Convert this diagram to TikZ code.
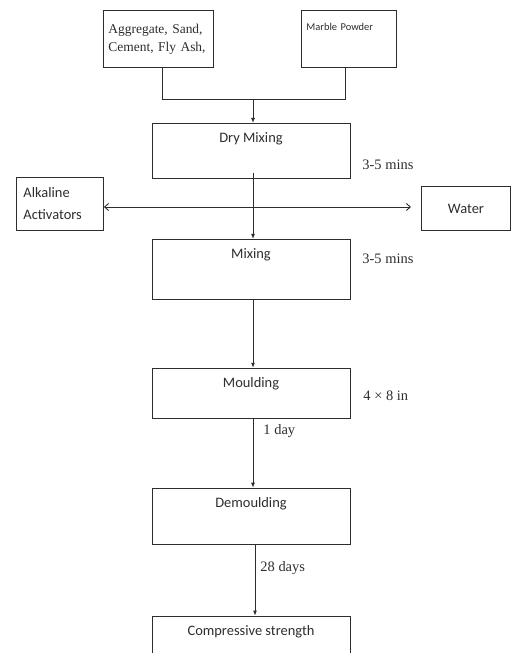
\documentclass[tikz,border=0pt]{standalone}
\usepackage{fontspec}
\setmainfont{Liberation Serif}
\newfontfamily\calibri{Carlito}
\usepackage{tikz}
\usetikzlibrary{arrows.meta, positioning}
\definecolor{ink}{RGB}{45,45,45}

\begin{document}
\begin{tikzpicture}[x=1bp, y=-1bp, color=ink, line width=0.9bp,
      stage/.style={draw, font=\calibri\fontsize{14.5}{17}\selectfont,
                    minimum width=198bp, inner sep=0pt, text height=19bp},
      src/.style={draw, align=left, inner ysep=0pt},
      side/.style={draw, font=\calibri\fontsize{14.5}{22}\selectfont},
      note/.style={anchor=west, inner sep=0pt, font=\fontsize{14.5}{17}\selectfont},
      arr/.style={-{Latex[length=5bp, width=4bp]}},
      duo/.style={{Straight Barb[length=4bp, width=7bp]}-{Straight Barb[length=4bp, width=7bp]}}]
    \useasboundingbox (0,0) rectangle (511,653);
    \clip (0,0) rectangle (511,653);
    % inputs
    \node[src, anchor=north west, text width=100bp, inner xsep=5bp, minimum height=57bp,
          font=\fontsize{13.5}{18}\selectfont] (agg) at (103,10) {Aggregate, Sand,\\Cement, Fly Ash,};
    \node[src, anchor=north west, text width=85bp, inner xsep=5bp, text height=20.5bp, text depth=36.5bp,
          font=\calibri\fontsize{10.5}{12}\selectfont] (marble) at (301,10) {Marble Powder};
    % process column
    \node[stage, anchor=north, text depth=36bp] (dry) at (251,123) {Dry Mixing};
    \node[stage, below=60bp of dry, text depth=41bp] (mix) {Mixing};
    \node[stage, below=68bp of mix, text depth=31bp] (mould) {Moulding};
    \node[stage, below=69bp of mould, text depth=37bp] (demould) {Demoulding};
    \node[stage, below=71bp of demould, text depth=50bp] (comp) {Compressive strength};
    % liquids
    \node[side, anchor=north west, align=left, text width=73bp, inner xsep=7bp, inner ysep=0pt,
          minimum height=53bp] (alk) at (16,177) {Alkaline\\Activators};
    \node[side, anchor=north west, minimum width=89bp, minimum height=44bp, inner sep=0pt] (water) at (421,186) {Water};
    % times
    \node[note] (t1) at (362,165) {3-5 mins};
    \node[note] (t2) at (362,259) {3-5 mins};
    \node[note] (t3) at (363,396) {4 × 8 in};
    \node[note] (t4) at (263,431) {1 day};
    \node[note] (t5) at (260,568) {28 days};
    % connectors
    \coordinate (join) at (253,99.4);
    \coordinate (wtip) at (411,207);
    \draw ([xshift=4bp]agg.south) |- (join);
    \draw ([xshift=-4bp]marble.south) |- (join);
    \draw[arr] (join) -- (join |- dry.north);
    \draw[arr] ([yshift=6bp]dry.south -| join) -- (join |- mix.north);
    \draw[duo] (alk.east |- wtip) -- (wtip);
    \draw[arr] (mix.south -| join) -- (mould.north -| join);
    \draw[arr] (mould.south -| join) -- (demould.north -| join);
    \draw[arr] ([xshift=2bp]demould.south -| join) -- ([xshift=2bp]comp.north -| join);
  \end{tikzpicture}
\end{document}
